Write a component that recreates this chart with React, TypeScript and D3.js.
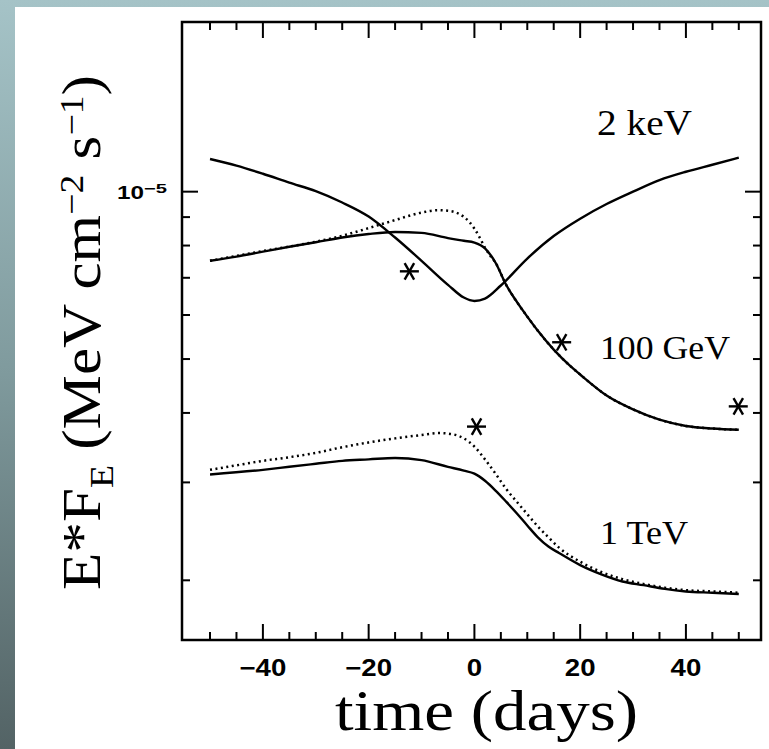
import React from 'react';
import * as d3 from 'd3';

// ---- data (flux in units of 1e-6 MeV cm^-2 s^-1, time in days) ----
const days2keV = [-50, -45, -40, -35, -30, -25, -20, -15, -10, -5, -2, 0, 2, 5, 10, 15, 20, 25, 30, 35, 40, 45, 50];
const flux2keV = [11.45, 11.14, 10.77, 10.38, 10.02, 9.56, 9.02, 8.27, 7.51, 6.8, 6.45, 6.36, 6.42, 6.78, 7.58, 8.32, 8.94, 9.5, 10.0, 10.49, 10.86, 11.18, 11.51];

const days100GeV = [-50, -45, -40, -35, -30, -25, -20, -15, -10, -5, -2, 0, 2, 4, 6, 8, 10, 12, 15, 18, 20, 25, 30, 35, 40, 45, 50];
const flux100GeV = [7.51, 7.64, 7.8, 7.96, 8.11, 8.27, 8.39, 8.46, 8.43, 8.25, 8.16, 8.1, 7.91, 7.45, 6.8, 6.34, 5.96, 5.62, 5.2, 4.87, 4.69, 4.3, 4.06, 3.89, 3.79, 3.75, 3.73];

const days100GeVDot = [-50, -40, -30, -25, -20, -15, -10, -7, -5, -3, -1, 0, 1, 2, 3, 4, 6, 8, 10, 12, 15, 18, 20, 25, 30, 35, 40, 45, 50];
const flux100GeVDot = [7.51, 7.82, 8.13, 8.33, 8.6, 8.89, 9.17, 9.26, 9.24, 9.13, 8.83, 8.58, 8.27, 7.93, 7.67, 7.45, 6.8, 6.34, 5.96, 5.62, 5.2, 4.87, 4.69, 4.3, 4.06, 3.89, 3.79, 3.75, 3.73];

const days1TeV = [-50, -40, -35, -30, -25, -20, -15, -10, -5, -2, 0, 2, 4, 6, 8, 10, 12, 14, 16, 20, 24, 28, 32, 36, 40, 45, 50];
const flux1TeV = [3.1, 3.16, 3.2, 3.24, 3.28, 3.3, 3.32, 3.29, 3.2, 3.15, 3.11, 3.02, 2.9, 2.77, 2.64, 2.51, 2.39, 2.3, 2.24, 2.13, 2.05, 1.99, 1.96, 1.93, 1.91, 1.9, 1.89];

const days1TeVDot = [-50, -45, -40, -35, -30, -25, -20, -15, -10, -6.5, -4, -2, 0, 2, 4, 6, 8, 10, 12, 14, 16, 20, 24, 28, 32, 36, 40, 45, 50];
const flux1TeVDot = [3.16, 3.22, 3.28, 3.33, 3.39, 3.47, 3.54, 3.6, 3.65, 3.68, 3.66, 3.6, 3.48, 3.3, 3.11, 2.92, 2.77, 2.63, 2.5, 2.39, 2.29, 2.16, 2.07, 2.01, 1.97, 1.94, 1.92, 1.91, 1.9];

const starDays = [-12.3, 16.5, 49.9, 0.4];
const starFlux = [7.19, 5.36, 4.11, 3.78];

const xTickValues = d3.range(-50, 51, 5);
const xTickLabels = [-40, -20, 0, 20, 40];
const yTickValues = [2, 3, 4, 5, 6, 7, 8, 9, 10];
const yMajor = 10;

const W = 769;
const H = 749;
const L = 182, R = 761, T = 22, B = 640;

export default function App() {
  const x = d3.scaleLinear().domain([-55.3, 54.2]).range([L, R]);
  const y = d3.scaleLog().domain([1.562, 20.19]).range([B, T]);

  const line = d3
    .line<[number, number]>()
    .x((d) => x(d[0]))
    .y((d) => y(d[1]))
    .curve(d3.curveMonotoneX);

  const zip = (a: number[], b: number[]) => a.map((v, i) => [v, b[i]] as [number, number]);

  const solid = [zip(days2keV, flux2keV), zip(days100GeV, flux100GeV), zip(days1TeV, flux1TeV)];
  const dotted = [zip(days100GeVDot, flux100GeVDot), zip(days1TeVDot, flux1TeVDot)];

  const fmt = (v: number) => (v < 0 ? '\u2212' + Math.abs(v) : String(v));

  const starR = 9.5;
  const angles = [0, 60, 120];

  return (
    <div style={{ position: 'absolute', left: 0, top: 0 }}>
      <svg width={W} height={H} xmlns="http://www.w3.org/2000/svg" style={{ display: 'block' }}>
        <defs>
          <linearGradient id="bg" x1="0" y1="0" x2="0" y2="1">
            <stop offset="0" stopColor="#a5c3c7" />
            <stop offset="0.5" stopColor="#7f9a9d" />
            <stop offset="1" stopColor="#536365" />
          </linearGradient>
        </defs>
        <rect x={0} y={0} width={W} height={H} fill="url(#bg)" />
        <rect x={15} y={7} width={W - 15} height={H - 7} fill="#ffffff" />

        {/* frame */}
        <rect x={L} y={T} width={R - L} height={B - T} fill="none" stroke="#000" strokeWidth={2.5} />

        {/* x ticks bottom and top */}
        {xTickValues.map((t) => {
          const len = t % 20 === 0 ? 16 : 8;
          return (
            <g key={'xt' + t}>
              <line x1={x(t)} x2={x(t)} y1={B} y2={B - len} stroke="#000" strokeWidth={2} />
              <line x1={x(t)} x2={x(t)} y1={T} y2={T + len} stroke="#000" strokeWidth={2} />
            </g>
          );
        })}
        {/* y ticks left and right */}
        {yTickValues.map((v) => {
          const len = v === yMajor ? 16 : 8;
          return (
            <g key={'yt' + v}>
              <line x1={L} x2={L + len} y1={y(v)} y2={y(v)} stroke="#000" strokeWidth={2} />
              <line x1={R} x2={R - len} y1={y(v)} y2={y(v)} stroke="#000" strokeWidth={2} />
            </g>
          );
        })}

        {/* x tick labels */}
        {xTickLabels.map((t) => (
          <text
            key={'xl' + t}
            transform={`translate(${x(t)},676) scale(1.2,1)`}
            textAnchor="middle"
            fontFamily="Liberation Sans, Arial, sans-serif"
            fontWeight="bold"
            fontSize={23}
            fill="#000"
          >
            {fmt(t)}
          </text>
        ))}

        {/* y tick label 10^-5 */}
        <text x={117} y={y(yMajor) + 7} fontFamily="Liberation Sans, Arial, sans-serif" fontWeight="bold" fontSize={19} textLength={27} lengthAdjust="spacingAndGlyphs">10</text>
        <text x={144} y={y(yMajor) + 1} fontFamily="Liberation Sans, Arial, sans-serif" fontWeight="bold" fontSize={13} textLength={23} lengthAdjust="spacingAndGlyphs">{'\u22125'}</text>

        {/* curves */}
        {solid.map((d, i) => (
          <path key={'s' + i} d={line(d) || ''} fill="none" stroke="#000" strokeWidth={2.4} />
        ))}
        {dotted.map((d, i) => (
          <path key={'d' + i} d={line(d) || ''} fill="none" stroke="#000" strokeWidth={2.5} strokeDasharray="2,3.5" />
        ))}

        {/* asterisk markers */}
        {starDays.map((t, i) => (
          <g key={'st' + i} transform={`translate(${x(t)},${y(starFlux[i])})`}>
            {angles.map((a) => {
              const r = (a * Math.PI) / 180;
              return (
                <line
                  key={a}
                  x1={-starR * Math.cos(r)}
                  y1={-starR * Math.sin(r)}
                  x2={starR * Math.cos(r)}
                  y2={starR * Math.sin(r)}
                  stroke="#000"
                  strokeWidth={2.4}
                />
              );
            })}
          </g>
        ))}

        {/* curve labels */}
        <text x={597} y={135} fontFamily="Liberation Serif, serif" fontSize={35} textLength={95} lengthAdjust="spacingAndGlyphs">2 keV</text>
        <text x={600} y={359} fontFamily="Liberation Serif, serif" fontSize={34} textLength={130} lengthAdjust="spacingAndGlyphs">100 GeV</text>
        <text x={600} y={544} fontFamily="Liberation Serif, serif" fontSize={34} textLength={88} lengthAdjust="spacingAndGlyphs">1 TeV</text>

        {/* axis titles */}
        <text x={335} y={730} fontFamily="Liberation Serif, serif" fontSize={58} textLength={303} lengthAdjust="spacingAndGlyphs">time (days)</text>

        <text
          transform="translate(100,590) rotate(-90)"
          fontFamily="Liberation Serif, serif"
          fontSize={55}
          textLength={515}
          lengthAdjust="spacingAndGlyphs"
        >
          <tspan>E*F</tspan>
          <tspan fontSize={34} dy={13}>E</tspan>
          <tspan dy={-13}>{' (MeV cm'}</tspan>
          <tspan fontSize={34} dy={-17}>{'\u22122'}</tspan>
          <tspan dy={17}>{' s'}</tspan>
          <tspan fontSize={34} dy={-17}>{'\u22121'}</tspan>
          <tspan dy={17}>)</tspan>
        </text>
      </svg>
    </div>
  );
}
